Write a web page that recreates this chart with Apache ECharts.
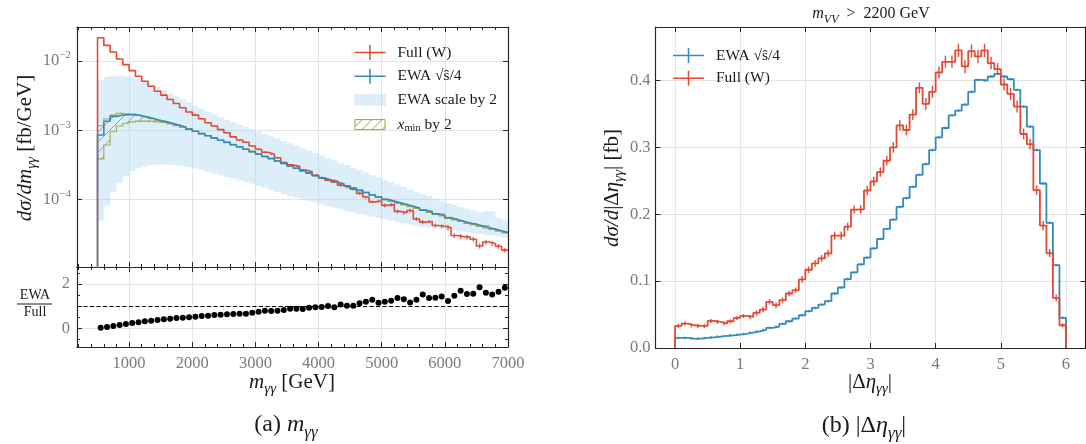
<!DOCTYPE html>
<html><head><meta charset="utf-8">
<script src="https://cdn.jsdelivr.net/npm/echarts@6/dist/echarts.min.js"></script>
<style>html,body{margin:0;padding:0;background:#fff}#c{width:1086px;height:444px}</style>
</head><body><div id="c"></div>
<script>
// ---------------- data ----------------
const massBinEdges = [500,600,700,800,900,1000,1100,1200,1300,1400,1500,1600,1700,1800,1900,2000,2100,2200,2300,2400,2500,2600,2700,2800,2900,3000,3100,3200,3300,3400,3500,3600,3700,3800,3900,4000,4100,4200,4300,4400,4500,4600,4700,4800,4900,5000,5100,5200,5300,5400,5500,5600,5700,5800,5900,6000,6100,6200,6300,6400,6500,6600,6700,6800,6900,7000];

const fullMass = [2.17e-2,1.68e-2,1.35e-2,1.07e-2,8.86e-3,7.26e-3,6.02e-3,5.09e-3,4.31e-3,3.66e-3,
3.21e-3,2.78e-3,2.43e-3,2.11e-3,1.83e-3,1.65e-3,1.46e-3,1.28e-3,1.15e-3,1.02e-3,
9.2e-4,8.0e-4,7.2e-4,6.7e-4,5.9e-4,5.3e-4,4.8e-4,4.5e-4,4.0e-4,3.4e-4,
3.15e-4,3.0e-4,2.65e-4,2.5e-4,2.22e-4,2.05e-4,1.90e-4,1.84e-4,1.60e-4,1.50e-4,
1.40e-4,1.22e-4,1.08e-4,9.2e-5,9.5e-5,8.2e-5,8.4e-5,6.7e-5,6.4e-5,6.9e-5,
5.2e-5,4.7e-5,4.8e-5,4.2e-5,4.1e-5,3.9e-5,3.0e-5,2.9e-5,2.85e-5,2.65e-5,
2.12e-5,2.42e-5,2.3e-5,2.1e-5,1.85e-5];

const fullMassRelErr = [0.01,0.01,0.01,0.01,0.01,0.01,0.01,0.01,0.01,0.01,
0.01,0.01,0.01,0.01,0.01,0.02,0.02,0.02,0.02,0.02,
0.02,0.02,0.02,0.02,0.02,0.03,0.03,0.03,0.03,0.03,
0.03,0.03,0.03,0.03,0.03,0.045,0.045,0.045,0.045,0.045,
0.045,0.045,0.045,0.045,0.045,0.06,0.06,0.06,0.06,0.06,
0.06,0.06,0.06,0.06,0.06,0.08,0.08,0.08,0.08,0.08,
0.08,0.08,0.08,0.08,0.08];

const ewaMass = [8.51e-4,1.349e-3,1.585e-3,1.660e-3,1.679e-3,1.679e-3,1.622e-3,1.549e-3,1.462e-3,1.380e-3,
1.318e-3,1.245e-3,1.175e-3,1.109e-3,1.035e-3,9.66e-4,8.91e-4,8.32e-4,7.67e-4,7.16e-4,
6.68e-4,6.17e-4,5.75e-4,5.31e-4,4.90e-4,4.52e-4,4.17e-4,3.89e-4,3.59e-4,3.31e-4,
3.05e-4,2.82e-4,2.60e-4,2.40e-4,2.21e-4,2.04e-4,1.91e-4,1.78e-4,1.68e-4,1.57e-4,
1.46e-4,1.35e-4,1.26e-4,1.16e-4,1.08e-4,1.00e-4,9.44e-5,8.91e-5,8.41e-5,7.94e-5,
7.50e-5,7.00e-5,6.61e-5,6.17e-5,5.82e-5,5.43e-5,5.13e-5,4.84e-5,4.57e-5,4.37e-5,
4.12e-5,3.89e-5,3.72e-5,3.51e-5,3.31e-5];

const scaleBandUpper = [5.25e-3,5.89e-3,6.10e-3,6.10e-3,5.96e-3,5.75e-3,5.50e-3,5.13e-3,4.68e-3,4.22e-3,
3.80e-3,3.43e-3,3.09e-3,2.79e-3,2.51e-3,2.26e-3,2.04e-3,1.86e-3,1.70e-3,1.55e-3,
1.41e-3,1.30e-3,1.20e-3,1.11e-3,1.02e-3,9.55e-4,8.81e-4,8.13e-4,7.59e-4,7.00e-4,
6.46e-4,5.96e-4,5.50e-4,5.07e-4,4.68e-4,4.32e-4,3.98e-4,3.67e-4,3.39e-4,3.13e-4,
2.88e-4,2.66e-4,2.45e-4,2.26e-4,2.09e-4,1.93e-4,1.78e-4,1.64e-4,1.51e-4,1.40e-4,
1.29e-4,1.20e-4,1.11e-4,1.02e-4,9.55e-5,8.81e-5,8.32e-5,7.76e-5,7.33e-5,6.92e-5,
6.46e-5,6.76e-5,6.76e-5,5.37e-5,5.13e-5];

const scaleBandLower = [4.93e-5,8.13e-5,1.27e-4,1.74e-4,2.14e-4,2.57e-4,2.82e-4,2.99e-4,3.13e-4,3.20e-4,
3.20e-4,3.16e-4,3.09e-4,3.02e-4,2.92e-4,2.79e-4,2.66e-4,2.51e-4,2.37e-4,2.24e-4,
2.11e-4,2.00e-4,1.88e-4,1.78e-4,1.68e-4,1.58e-4,1.48e-4,1.38e-4,1.29e-4,1.20e-4,
1.12e-4,1.06e-4,1.00e-4,9.44e-5,8.91e-5,8.51e-5,8.04e-5,7.59e-5,7.16e-5,6.76e-5,
6.46e-5,6.17e-5,5.89e-5,5.62e-5,5.37e-5,5.19e-5,4.95e-5,4.73e-5,4.52e-5,4.32e-5,
4.17e-5,4.03e-5,3.94e-5,3.85e-5,3.76e-5,3.67e-5,3.55e-5,3.43e-5,3.35e-5,3.24e-5,
3.16e-5,3.09e-5,3.02e-5,2.92e-5,2.82e-5];

const xminBandUpper = [1.16e-3,1.45e-3,1.65e-3,1.75e-3,1.72e-3,1.69e-3,1.63e-3,1.56e-3,1.48e-3,1.40e-3,
1.33e-3,1.255e-3,1.19e-3,1.12e-3,1.045e-3,9.75e-4,9.0e-4,8.4e-4,7.75e-4,7.23e-4,
6.75e-4,6.23e-4,5.81e-4,5.36e-4,4.95e-4,4.57e-4,4.21e-4,3.93e-4,3.63e-4,3.34e-4,
3.08e-4,2.85e-4,2.63e-4,2.42e-4,2.23e-4,2.06e-4,1.93e-4,1.80e-4,1.70e-4,1.59e-4,
1.47e-4,1.36e-4,1.27e-4,1.17e-4,1.09e-4,1.01e-4,9.5e-5,9.0e-5,8.5e-5,8.0e-5,
7.6e-5,7.1e-5,6.7e-5,6.25e-5,6.2e-5,5.5e-5,5.2e-5,4.9e-5,4.62e-5,4.42e-5,
4.16e-5,4.15e-5,3.76e-5,3.55e-5,3.36e-5];

const xminBandLower = [3.85e-4,6.1e-4,9.5e-4,1.15e-3,1.26e-3,1.32e-3,1.35e-3,1.35e-3,1.34e-3,1.32e-3,
1.29e-3,1.235e-3,1.165e-3,1.10e-3,1.025e-3,9.57e-4,8.82e-4,8.24e-4,7.6e-4,7.09e-4,
6.61e-4,6.11e-4,5.69e-4,5.26e-4,4.85e-4,4.47e-4,4.13e-4,3.85e-4,3.55e-4,3.28e-4,
3.02e-4,2.79e-4,2.57e-4,2.38e-4,2.19e-4,2.02e-4,1.89e-4,1.76e-4,1.66e-4,1.55e-4,
1.45e-4,1.34e-4,1.25e-4,1.15e-4,1.07e-4,9.9e-5,9.35e-5,8.8e-5,8.3e-5,7.85e-5,
7.4e-5,6.9e-5,6.5e-5,6.1e-5,5.75e-5,5.35e-5,5.05e-5,4.78e-5,4.5e-5,4.3e-5,
4.07e-5,3.85e-5,3.68e-5,3.47e-5,3.27e-5];

const ewaOverFull = [0.03,0.06,0.105,0.15,0.195,0.24,0.27,0.315,0.345,0.375,
0.406,0.436,0.466,0.48,0.496,0.526,0.556,0.571,0.60,0.617,
0.632,0.647,0.66,0.66,0.707,0.75,0.797,0.78,0.797,0.827,
0.887,0.887,0.872,0.932,0.947,0.962,1.007,0.947,1.08,1.02,
1.02,1.13,1.20,1.29,1.16,1.20,1.25,1.37,1.31,1.17,
1.29,1.53,1.37,1.38,1.44,1.23,1.47,1.70,1.55,1.56,
1.85,1.61,1.53,1.65,1.83];
const ratioReference = 1;

const etaBinEdges = [0,0.1,0.2,0.3,0.4,0.5,0.6,0.7,0.8,0.9,1.0,1.1,1.2,1.3,1.4,1.5,1.6,1.7,1.8,1.9,2.0,2.1,2.2,2.3,2.4,2.5,2.6,2.7,2.8,2.9,3.0,3.1,3.2,3.3,3.4,3.5,3.6,3.7,3.8,3.9,4.0,4.1,4.2,4.3,4.4,4.5,4.6,4.7,4.8,4.9,5.0,5.1,5.2,5.3,5.4,5.5,5.6,5.7,5.8,5.9,6.0];

const ewaEta = [0.015,0.015,0.014,0.014,0.015,0.016,0.017,0.018,0.019,0.020,
0.021,0.023,0.025,0.027,0.030,0.032,0.036,0.040,0.044,0.049,
0.055,0.060,0.065,0.070,0.0815,0.0905,0.103,0.113,0.125,0.135,
0.149,0.163,0.178,0.192,0.211,0.224,0.241,0.259,0.275,0.296,
0.315,0.329,0.348,0.355,0.364,0.383,0.401,0.400,0.406,0.410,
0.406,0.402,0.386,0.361,0.331,0.296,0.246,0.187,0.124,0.045];
const ewaEtaErr = [0.002,0.002,0.002,0.002,0.002,0.002,0.002,0.002,0.002,0.002,
0.002,0.002,0.002,0.002,0.002,0.002,0.002,0.002,0.002,0.002,
0.002,0.002,0.002,0.002,0.002,0.002,0.002,0.002,0.002,0.002,
0.002,0.002,0.002,0.002,0.002,0.002,0.002,0.002,0.002,0.002,
0.002,0.002,0.002,0.002,0.002,0.002,0.002,0.002,0.002,0.002,
0.002,0.002,0.002,0.002,0.002,0.002,0.002,0.002,0.002,0.002];

const fullEta = [0.033,0.0365,0.034,0.033,0.033,0.0405,0.039,0.0365,0.040,0.045,
0.048,0.0465,0.0525,0.0575,0.069,0.064,0.0715,0.0815,0.0865,0.1025,
0.117,0.1265,0.134,0.1415,0.168,0.168,0.1815,0.207,0.2075,0.2355,
0.249,0.263,0.280,0.300,0.333,0.326,0.349,0.389,0.365,0.383,
0.412,0.428,0.428,0.445,0.421,0.444,0.436,0.445,0.426,0.417,
0.394,0.380,0.361,0.320,0.305,0.236,0.183,0.142,0.075,0.034];
const fullEtaErr = [0.003,0.003,0.003,0.003,0.003,0.003,0.003,0.003,0.003,0.003,
0.003,0.003,0.004,0.004,0.004,0.004,0.004,0.004,0.004,0.005,
0.005,0.005,0.005,0.005,0.006,0.006,0.006,0.006,0.006,0.007,
0.007,0.007,0.007,0.008,0.008,0.008,0.008,0.008,0.009,0.009,
0.009,0.009,0.009,0.010,0.010,0.010,0.010,0.010,0.009,0.009,
0.009,0.009,0.009,0.008,0.008,0.007,0.007,0.006,0.005,0.003];

// ---------------- styling ----------------
const FONT = '"Liberation Serif","DejaVu Serif",serif';
const GREY = '#7a7a7a', TXT = '#1a1a1a', FRAME = '#262626', GRIDC = '#e4e4e4';
const RED = '#E24A33', BLUE = '#348ABD', OLIVE = '#A2A22E', BAND = 'rgba(160,208,243,0.36)';
const LOG_BASE = 1e-9;
const TICKFONT = 16.5;

const hatch = document.createElement('canvas');
hatch.width = 10; hatch.height = 10;
(function(){ const g = hatch.getContext('2d'); g.strokeStyle = OLIVE; g.lineWidth = 1;
  g.beginPath(); g.moveTo(0,10); g.lineTo(10,0); g.moveTo(-2,2); g.lineTo(2,-2); g.moveTo(8,12); g.lineTo(12,8); g.stroke(); })();
const HATCH = {image: hatch, repeat: 'repeat'};

function stepPoints(edges, vals, base, closeEnd) {
  const pts = [[edges[0], base]];
  for (let i = 0; i < vals.length; i++) pts.push([edges[i], vals[i]]);
  pts.push([edges[edges.length-1], vals[vals.length-1]]);
  if (closeEnd) pts.push([edges[edges.length-1], base]);
  return pts;
}
function centers(edges){ const c=[]; for(let i=0;i<edges.length-1;i++) c.push((edges[i]+edges[i+1])/2); return c; }
const massCenters = centers(massBinEdges), etaCenters = centers(etaBinEdges);

function bandSeries(name, edges, up, lo, xi, yi, style, z) {
  return {
    type:'custom', name, xAxisIndex:xi, yAxisIndex:yi, clip:true, silent:true, z,
    itemStyle:{color: style.fill},
    data:[[edges[0], up[0]]],
    renderItem:(params, api) => {
      const pts = [];
      for (let i=0;i<up.length;i++){ pts.push(api.coord([edges[i], up[i]])); pts.push(api.coord([edges[i+1], up[i]])); }
      for (let i=lo.length-1;i>=0;i--){ pts.push(api.coord([edges[i+1], lo[i]])); pts.push(api.coord([edges[i], lo[i]])); }
      return {type:'polygon', shape:{points:pts}, style};
    }
  };
}
function errSeries(items, xi, yi, color, w, z) {
  return {
    type:'custom', xAxisIndex:xi, yAxisIndex:yi, clip:true, silent:true, z,
    data: items,
    renderItem:(params, api) => {
      const p1 = api.coord([api.value(0), api.value(1)]);
      const p2 = api.coord([api.value(0), api.value(2)]);
      return {type:'line', shape:{x1:p1[0],y1:p1[1],x2:p2[0],y2:p2[1]}, style:{stroke:color, lineWidth:w}};
    }
  };
}
function lineSeries(name, pts, xi, yi, color, w, z) {
  return {type:'line', name, xAxisIndex:xi, yAxisIndex:yi, data:pts, step:'end', symbol:'none', showSymbol:false,
    clip:true, silent:true, z, lineStyle:{color, width:w}, itemStyle:{color}};
}

const fullMassErr = fullMass.map((v,i)=>[massCenters[i], v*(1-fullMassRelErr[i]), v*(1+fullMassRelErr[i])]);
const fullEtaErrItems = fullEta.map((v,i)=>[etaCenters[i], v-fullEtaErr[i], v+fullEtaErr[i]]);
const ewaEtaErrItems = ewaEta.map((v,i)=>[etaCenters[i], v-ewaEtaErr[i], v+ewaEtaErr[i]]);

const frameLine = {show:true, onZero:false, lineStyle:{color:FRAME, width:1.2}};
const tick = {show:true, inside:true, length:5, lineStyle:{color:FRAME, width:1}};
const minor = {show:true, splitNumber:5, length:3, lineStyle:{color:FRAME, width:1}};
const lbl = {color:GREY, fontFamily:FONT, fontSize:TICKFONT};
const split = {show:true, lineStyle:{color:GRIDC, width:1}};

const subRich = (size) => ({
  i:{fontStyle:'italic', fontFamily:FONT, fontSize:size, lineHeight:size+8, fill:TXT, color:TXT},
  r:{fontFamily:FONT, fontSize:size, lineHeight:size+8, fill:TXT, color:TXT},
  s:{fontStyle:'italic', fontFamily:FONT, fontSize:Math.round(size*0.72), lineHeight:Math.round(size*0.78), verticalAlign:'bottom', fill:TXT, color:TXT}
});
function gtext(x, y, text, size, rot) {
  return {type:'text', x, y, rotation: rot||0, silent:true,
    style:{text, fontFamily:FONT, fontSize:size, fill:TXT, align:'center', verticalAlign:'middle', rich:subRich(size)}};
}

const CROSS = 'path://M0,6.75H31V8.25H0Z M14.75,0H16.25V15H14.75Z';
const BANDICON = 'path://M0,0M31,15M0,1.5H31V13.5H0Z';
const HATCHICON = 'path://M0,0M31,15M0.5,2.5H30.5V12.5H0.5Z';
const legendText = {fontFamily:FONT, fontSize:15.5, color:TXT, lineHeight:15, padding:[0,0,0,7],
  rich:{ i:{fontStyle:'italic', fontFamily:FONT, fontSize:15.5, color:TXT, lineHeight:18},
         s:{fontFamily:FONT, fontSize:10.5, color:TXT, verticalAlign:'bottom', lineHeight:10} }};
const legendFmt = n => n === 'x_min by 2' ? '{i|x}{s|min} by 2' : n;
const plainNum = v => String(v);

const chart = echarts.init(document.getElementById('c'), null, {renderer:'canvas'});
chart.setOption({
  animation:false,
  backgroundColor:'#fff',
  grid:[
    {left:77, top:27, width:431, height:240, show:false, outerBoundsMode:'none'},
    {left:77, top:267, width:431, height:80, show:false, outerBoundsMode:'none'},
    {left:655.5, top:27, width:430, height:321, show:false, outerBoundsMode:'none'}
  ],
  xAxis:[
    {gridIndex:0, type:'value', position:'bottom', min:175, max:7000, splitNumber:7, axisLine:frameLine, axisTick:tick, minorTick:minor, axisLabel:{show:false}, splitLine:split},
    {gridIndex:0, type:'value', position:'top', min:175, max:7000, splitNumber:7, axisLine:frameLine, axisTick:tick, minorTick:minor, axisLabel:{show:false}, splitLine:{show:false}},
    {gridIndex:1, type:'value', position:'bottom', min:175, max:7000, splitNumber:7, axisLine:frameLine, axisTick:tick, minorTick:minor,
      axisLabel:Object.assign({margin:8, showMinLabel:false, formatter:plainNum}, lbl), splitLine:split},
    {gridIndex:1, type:'value', position:'top', min:175, max:7000, splitNumber:7, axisLine:frameLine, axisTick:tick, minorTick:minor, axisLabel:{show:false}, splitLine:{show:false}},
    {gridIndex:2, type:'value', position:'bottom', min:-0.3, max:6.3, splitNumber:7, axisLine:frameLine, axisTick:tick,
      axisLabel:Object.assign({margin:8, showMinLabel:false, showMaxLabel:false, formatter:plainNum}, lbl), splitLine:split},
    {gridIndex:2, type:'value', position:'top', min:-0.3, max:6.3, splitNumber:7, axisLine:frameLine, axisTick:tick, axisLabel:{show:false}, splitLine:{show:false}}
  ],
  yAxis:[
    {gridIndex:0, type:'log', logBase:10, position:'left', min:1.054e-5, max:3.1e-2, axisLine:frameLine, axisTick:tick, splitLine:split,
      axisLabel:{showMinLabel:false, showMaxLabel:false, margin:6,
        formatter:v => { const e = Math.round(Math.log10(v)); return '{b|10}{p|' + (e<0?'\u2212':'') + Math.abs(e) + '}'; },
        rich:{ b:{color:GREY, fontFamily:FONT, fontSize:TICKFONT, lineHeight:22},
               p:{color:GREY, fontFamily:FONT, fontSize:11, lineHeight:14, verticalAlign:'top'} } } },
    {gridIndex:0, type:'log', logBase:10, position:'right', min:1.054e-5, max:3.1e-2, axisLine:frameLine, axisTick:tick, axisLabel:{show:false}, splitLine:{show:false}},
    {gridIndex:1, type:'value', position:'left', min:-0.845, max:2.77, splitNumber:5, axisLine:frameLine, axisTick:tick,
      minorTick:{show:true, splitNumber:2, length:3, lineStyle:{color:FRAME}},
      axisLabel:Object.assign({margin:7, formatter:v => (Math.abs(v)<1e-9 ? '0' : (Math.abs(v-2)<1e-9 ? '2' : ''))}, lbl),
      splitLine:{show:true, lineStyle:{color:GRIDC}, interval:(i,v)=> Math.abs(v)<1e-9 || Math.abs(v-2)<1e-9}},
    {gridIndex:1, type:'value', position:'right', min:-0.845, max:2.77, splitNumber:5, axisLine:frameLine, axisTick:tick,
      minorTick:{show:true, splitNumber:2, length:3, lineStyle:{color:FRAME}}, axisLabel:{show:false}, splitLine:{show:false}},
    {gridIndex:2, type:'value', position:'left', min:0, max:0.48, splitNumber:5, axisLine:frameLine, axisTick:tick, splitLine:split,
      axisLabel:Object.assign({margin:5, showMaxLabel:false, formatter:v => v.toFixed(1)}, lbl)},
    {gridIndex:2, type:'value', position:'right', min:0, max:0.48, splitNumber:5, axisLine:frameLine, axisTick:tick, axisLabel:{show:false}, splitLine:{show:false}}
  ],
  legend:[
    {left:349, top:39.5, orient:'vertical', itemWidth:31, itemHeight:15, itemGap:7.7, selectedMode:false,
      textStyle:legendText, formatter:legendFmt,
      data:[
        {name:'Full (W)', icon:CROSS, itemStyle:{color:RED, borderWidth:0}},
        {name:'EWA \u221A\u015D/4', icon:CROSS, itemStyle:{color:BLUE, borderWidth:0}},
        {name:'EWA scale by 2', icon:BANDICON, itemStyle:{color:BAND, borderWidth:0}},
        {name:'x_min by 2', icon:HATCHICON, itemStyle:{color:HATCH, borderColor:OLIVE, borderWidth:1}}
      ]},
    {left:668, top:42.5, orient:'vertical', itemWidth:31, itemHeight:15, itemGap:6.7, selectedMode:false,
      textStyle:legendText, formatter:legendFmt,
      data:[
        {name:'EWA \u221A\u015D/4', icon:CROSS, itemStyle:{color:BLUE, borderWidth:0}},
        {name:'Full (W)', icon:CROSS, itemStyle:{color:RED, borderWidth:0}}
      ]}
  ],
  graphic:[
    gtext(25, 148, '{i|d\u03C3/dm}{s|\u03B3\u03B3}{r| [fb/GeV]}', 21, Math.PI/2),
    {type:'text', x:35, y:295, silent:true, style:{text:'EWA', fontFamily:FONT, fontSize:14, fill:TXT, align:'center', verticalAlign:'middle'}},
    {type:'line', silent:true, shape:{x1:17, y1:304, x2:52, y2:304}, style:{stroke:TXT, lineWidth:1}},
    {type:'text', x:35, y:312, silent:true, style:{text:'Full', fontFamily:FONT, fontSize:14, fill:TXT, align:'center', verticalAlign:'middle'}},
    gtext(292, 382, '{i|m}{s|\u03B3\u03B3}{r| [GeV]}', 21, 0),
    gtext(286, 425, '{r|(a) }{i|m}{s|\u03B3\u03B3}', 24, 0),
    gtext(612, 188, '{i|d\u03C3/d}{r||\u0394}{i|\u03B7}{s|\u03B3\u03B3}{r|| [fb]}', 21, Math.PI/2),
    gtext(870, 382, '{r||\u0394}{i|\u03B7}{s|\u03B3\u03B3}{r||}', 21, 0),
    gtext(864, 426, '{r|(b) |\u0394}{i|\u03B7}{s|\u03B3\u03B3}{r||}', 24, 0),
    gtext(871, 14, '{i|m}{s|VV}{r|  >  2200 GeV}', 16, 0)
  ],
  series:[
    bandSeries('EWA scale by 2', massBinEdges, scaleBandUpper, scaleBandLower, 0, 0, {fill:BAND}, 1),
    bandSeries('x_min by 2', massBinEdges, xminBandUpper, xminBandLower, 0, 0, {fill:HATCH, stroke:OLIVE, lineWidth:1.1, opacity:0.9}, 2),
    lineSeries('Full (W)', stepPoints(massBinEdges, fullMass, LOG_BASE, false), 0, 0, RED, 1.6, 3),
    errSeries(fullMassErr, 0, 0, RED, 1.2, 3),
    lineSeries('EWA \u221A\u015D/4', stepPoints(massBinEdges, ewaMass, LOG_BASE, false), 0, 0, BLUE, 1.6, 4),
    {type:'scatter', xAxisIndex:2, yAxisIndex:2, silent:true, symbol:'circle', symbolSize:6, itemStyle:{color:'#000', opacity:1},
      data: ewaOverFull.map((v,i)=>[massCenters[i], v]), z:4,
      markLine:{silent:true, symbol:'none', label:{show:false}, lineStyle:{color:'#000', type:[4,2.5], width:1, opacity:1}, data:[{yAxis:ratioReference}]}},
    lineSeries('EWA \u221A\u015D/4', stepPoints(etaBinEdges, ewaEta, 0, true), 4, 4, BLUE, 1.8, 3),
    errSeries(ewaEtaErrItems, 4, 4, BLUE, 1.2, 3),
    lineSeries('Full (W)', stepPoints(etaBinEdges, fullEta, 0, true), 4, 4, RED, 1.8, 4),
    errSeries(fullEtaErrItems, 4, 4, RED, 1.4, 4)
  ]
});
</script>
</body></html>
